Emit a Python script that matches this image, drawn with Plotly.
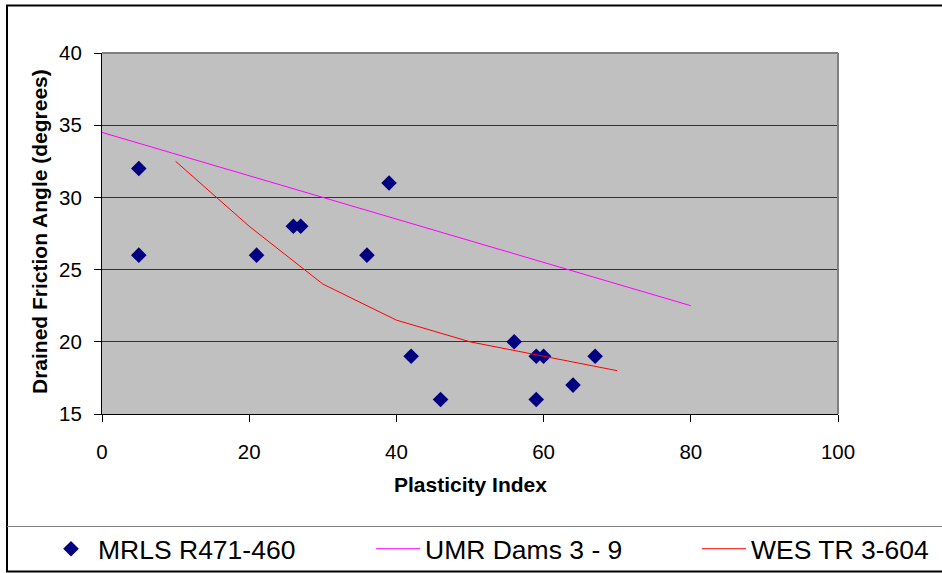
import plotly.graph_objects as go

# Measured samples (Plasticity Index vs drained friction angle)
pi_mrls = [5, 5, 21, 26, 27, 36, 39, 42, 46, 56, 59, 60, 59, 64, 67]
phi_mrls = [32, 26, 26, 28, 28, 26, 31, 19, 16, 20, 19, 19, 16, 17, 19]

# Design relationships
pi_umr = [0, 80]
phi_umr = [34.5, 22.5]

pi_wes = [10, 20, 30, 40, 50, 60, 70]
phi_wes = [32.5, 28, 24, 21.5, 20, 19, 18]

x_ticks = [0, 20, 40, 60, 80, 100]
y_ticks = [15, 20, 25, 30, 35, 40]

W, H = 942, 573
L, R, T, B = 102, 104, 53, 159
PW, PH = W - L - R, H - T - B
FONT = "Liberation Sans, Arial, sans-serif"


def fx(px):
    return (px - L) / PW


def fy(py):
    return (H - B - py) / PH


fig = go.Figure()
fig.add_trace(go.Scatter(
    x=pi_mrls, y=phi_mrls, mode="markers", name="MRLS R471-460",
    marker=dict(symbol="diamond", size=12, color="#000080"),
    legend="legend",
))
fig.add_trace(go.Scatter(
    x=pi_umr, y=phi_umr, mode="lines", name="UMR Dams 3 - 9",
    line=dict(color="#FF00FF", width=1), legend="legend2",
))
fig.add_trace(go.Scatter(
    x=pi_wes, y=phi_wes, mode="lines", name="WES TR 3-604",
    line=dict(color="#FF0000", width=1), legend="legend3",
))

leg_common = dict(
    orientation="h", yanchor="middle", xanchor="left",
    bgcolor="rgba(0,0,0,0)", borderwidth=0, itemwidth=44,
    font=dict(family=FONT, size=26.5, color="black"),
)

fig.update_layout(
    width=W, height=H,
    margin=dict(l=L, r=R, t=T, b=B, pad=0, autoexpand=False),
    paper_bgcolor="white", plot_bgcolor="#C0C0C0",
    font=dict(family=FONT, color="black"),
    showlegend=True,
    legend=dict(x=fx(44), y=fy(549), **leg_common),
    legend2=dict(x=fx(371), y=fy(549), **leg_common),
    legend3=dict(x=fx(697), y=fy(549), **leg_common),
    xaxis=dict(
        range=[0, 100], tickvals=x_ticks, ticks="outside", ticklen=7,
        tickcolor="black", showline=True, linecolor="black", linewidth=1,
        showgrid=False, zeroline=False, automargin=False,
        tickfont=dict(family=FONT, size=20.5), ticklabelstandoff=12,
    ),
    yaxis=dict(
        range=[15, 40], tickvals=y_ticks, ticks="outside", ticklen=7,
        tickcolor="black", showline=True, linecolor="black", linewidth=1,
        showgrid=True, gridcolor="#333333", gridwidth=1, zeroline=False,
        automargin=False, tickfont=dict(family=FONT, size=20.5),
        ticklabelstandoff=8,
    ),
    shapes=[
        # plot-area frame on top and right
        dict(type="line", xref="paper", yref="paper", x0=0, x1=1, y0=1, y1=1,
             line=dict(color="#808080", width=2)),
        dict(type="line", xref="paper", yref="paper", x0=1, x1=1, y0=0, y1=1,
             line=dict(color="#808080", width=2)),
        # chart frame
        dict(type="rect", xref="paper", yref="paper",
             x0=fx(7), x1=fx(960), y0=fy(571.5), y1=fy(5.5),
             line=dict(color="black", width=2), layer="above"),
        # legend separator
        dict(type="line", xref="paper", yref="paper",
             x0=fx(7), x1=fx(960), y0=fy(526.5), y1=fy(526.5),
             line=dict(color="#808080", width=1)),
    ],
    annotations=[
        dict(text="<b>Plasticity Index</b>", xref="paper", yref="paper",
             x=fx(470), y=fy(484), showarrow=False,
             xanchor="center", yanchor="middle",
             font=dict(family=FONT, size=21)),
        dict(text="<b>Drained Friction Angle (degrees)</b>", xref="paper",
             yref="paper", x=fx(39), y=fy(232), showarrow=False,
             textangle=-90, xanchor="center", yanchor="middle",
             font=dict(family=FONT, size=21)),
    ],
)

fig.write_html("out.html")
